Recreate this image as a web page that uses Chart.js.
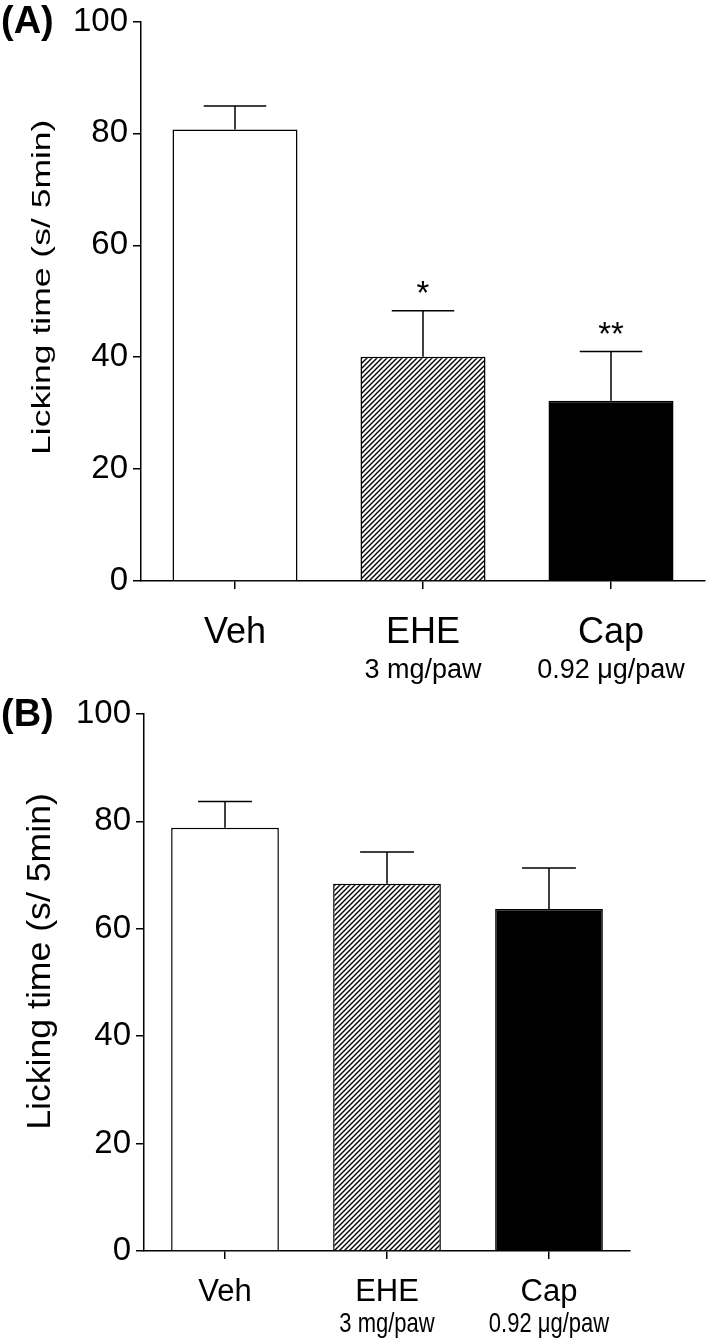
<!DOCTYPE html>
<html lang="en">
<head>
  <meta charset="UTF-8">
  <title>Licking time</title>
  <script src="https://cdn.jsdelivr.net/npm/chart.js"></script>
  <style>
    body { margin: 0; background: #fff; }
    #wrap { position: relative; width: 708px; height: 1341px; }
    canvas { position: absolute; left: 0; }
    #chartA { top: 0; }
    #chartB { top: 690px; }
  </style>
</head>
<body>
  <div id="wrap">
    <canvas id="chartA" width="708" height="690"></canvas>
    <canvas id="chartB" width="708" height="651"></canvas>
  </div>

  <script>
    const categories = ['Veh', 'EHE', 'Cap'];
    const doses = ['', '3 mg/paw', '0.92 μg/paw'];
    const yTicks = [0, 20, 40, 60, 80, 100];

    // (A) mean + SEM
    const meanA = [80.7, 40.1, 32.2];
    const semA = [4.2, 8.2, 8.8];
    const starsA = ['', '*', '**'];

    // (B) mean + SEM
    const meanB = [78.8, 68.4, 63.7];
    const semB = [4.9, 5.9, 7.6];
    const starsB = ['', '', ''];

    const FONT = '"Liberation Sans", Arial, sans-serif';
    const yTitle = 'Licking time (s/ 5min)';

    function hatch(ctx) {
      const c = document.createElement('canvas');
      c.width = c.height = 5;
      const g = c.getContext('2d');
      g.fillStyle = '#fff';
      g.fillRect(0, 0, 5, 5);
      g.strokeStyle = '#000';
      g.lineWidth = 1.4;
      g.beginPath();
      g.moveTo(0, 5); g.lineTo(5, 0);
      g.moveTo(-1, 1); g.lineTo(1, -1);
      g.moveTo(4, 6); g.lineTo(6, 4);
      g.stroke();
      return ctx.createPattern(c, 'repeat');
    }

    // error bars, stars, dose labels, axis title, panel letter
    function makeExtras(p) {
      return {
        id: 'extras',
        afterDatasetsDraw(chart) {
          const ctx = chart.ctx;
          const y = chart.scales.y;
          const meta = chart.getDatasetMeta(0);
          ctx.save();
          ctx.strokeStyle = '#000';
          ctx.lineWidth = 1.5;
          ctx.fillStyle = '#000';
          meta.data.forEach((bar, i) => {
            const top = y.getPixelForValue(p.mean[i] + p.sem[i]);
            const half = bar.width / 4;
            ctx.beginPath();
            ctx.moveTo(bar.x, bar.y);
            ctx.lineTo(bar.x, top);
            ctx.moveTo(bar.x - half, top);
            ctx.lineTo(bar.x + half, top);
            ctx.stroke();
            if (p.stars[i]) {
              ctx.font = '33px ' + FONT;
              ctx.textAlign = 'center';
              ctx.textBaseline = 'alphabetic';
              ctx.fillText(p.stars[i], bar.x, top - 7);
            }
          });
          ctx.restore();
        },
        afterDraw(chart) {
          const ctx = chart.ctx;
          const x = chart.scales.x;
          const area = chart.chartArea;
          ctx.save();
          ctx.fillStyle = '#000';

          // dose lines under category names
          ctx.font = p.doseFont + 'px ' + FONT;
          ctx.textAlign = 'center';
          ctx.textBaseline = 'alphabetic';
          doses.forEach((d, i) => {
            if (!d) return;
            ctx.save();
            ctx.translate(x.getPixelForTick(i), x.bottom - p.doseBottom);
            ctx.scale(1, p.doseStretch);
            ctx.fillText(d, 0, 0);
            ctx.restore();
          });

          // y axis title
          ctx.save();
          ctx.translate(p.titleX, (area.top + area.bottom) / 2 + p.titleShift);
          ctx.rotate(-Math.PI / 2);
          ctx.scale(p.titleStretch, 1);
          ctx.font = p.titleFont + 'px ' + FONT;
          ctx.textAlign = 'center';
          ctx.fillText(yTitle, 0, 0);
          ctx.restore();

          // panel letter
          ctx.font = 'bold 38px ' + FONT;
          ctx.textAlign = 'left';
          ctx.fillText(p.letter, 1, p.letterY);
          ctx.restore();
        }
      };
    }

    function buildChart(id, p) {
      const ctx = document.getElementById(id).getContext('2d');
      return new Chart(ctx, {
        type: 'bar',
        data: {
          labels: categories,
          datasets: [{
            data: p.mean,
            backgroundColor: ['#fff', hatch(ctx), '#000'],
            borderColor: '#000',
            borderWidth: 1.5,
            barPercentage: 0.665,
            categoryPercentage: 1
          }]
        },
        options: {
          responsive: false,
          animation: false,
          devicePixelRatio: 1,
          layout: { padding: { top: p.padTop, right: p.padRight, left: 0, bottom: 0 } },
          plugins: { legend: { display: false }, tooltip: { enabled: false } },
          scales: {
            x: {
              grid: { offset: false, drawOnChartArea: false, tickLength: 8, color: '#000', lineWidth: 1.5 },
              border: { color: '#000', width: 1.5 },
              ticks: { color: '#000', font: { family: FONT, size: p.xFont }, padding: p.xPad, maxRotation: 0 },
              afterFit: s => { s.height = p.xHeight; }
            },
            y: {
              min: 0,
              max: 100,
              afterBuildTicks: s => { s.ticks = yTicks.map(v => ({ value: v })); },
              grid: { drawOnChartArea: false, tickLength: 8, color: '#000', lineWidth: 1.5 },
              border: { color: '#000', width: 1.5 },
              ticks: { color: '#000', font: { family: FONT, size: 33, lineHeight: 1 }, padding: 5 },
              afterFit: s => { s.width = p.yWidth; }
            }
          }
        },
        plugins: [makeExtras(p)]
      });
    }

    buildChart('chartA', {
      mean: meanA, sem: semA, stars: starsA, letter: '(A)', letterY: 33,
      padTop: 18, padRight: 3, yWidth: 141, xHeight: 109,
      xFont: 36, xPad: 22, doseFont: 27, doseBottom: 12, doseStretch: 1,
      titleX: 50, titleShift: -14, titleFont: 25, titleStretch: 1.42
    });

    buildChart('chartB', {
      mean: meanB, sem: semB, stars: starsB, letter: '(B)', letterY: 36,
      padTop: 24, padRight: 78, yWidth: 144, xHeight: 90,
      xFont: 31, xPad: 15, doseFont: 22, doseBottom: 9, doseStretch: 1.25,
      titleX: 50, titleShift: -21, titleFont: 33, titleStretch: 1.08
    });
  </script>
</body>
</html>
